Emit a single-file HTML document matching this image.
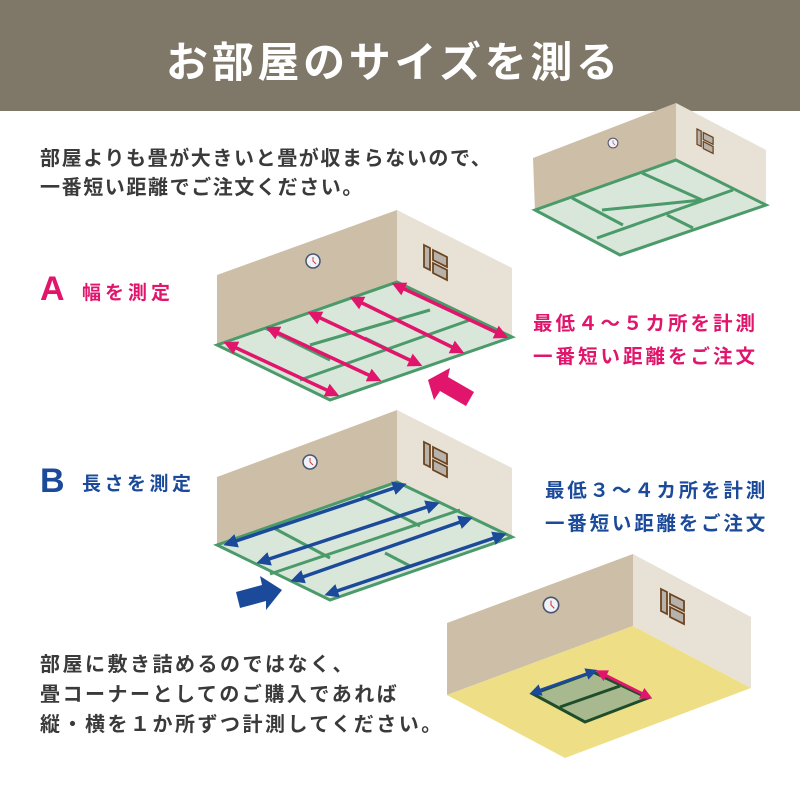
<!DOCTYPE html>
<html><head><meta charset="utf-8"><style>
body{margin:0;width:800px;height:800px;background:#fff;overflow:hidden;position:relative;font-family:"Liberation Sans","Noto Sans CJK JP",sans-serif;font-weight:bold}
.bar{position:absolute;left:0;top:0;width:800px;height:111px;background:#7f7868}
.t{position:absolute;white-space:nowrap}
</style></head><body>
<div class="bar"></div>
<div class="t" style="left:166px;top:29px;font-size:42px;color:#fff;letter-spacing:3.7px">お部屋のサイズを測る</div>
<div class="t" style="left:40px;top:145px;font-size:20px;color:#3a3a3a;line-height:29px;letter-spacing:1.6px">部屋よりも畳が大きいと畳が収まらないので、<br>一番短い距離でご注文ください。</div>
<div class="t" style="left:40px;top:270px;font-size:34px;color:#e0156b">A</div>
<div class="t" style="left:82px;top:278px;font-size:19px;color:#e0156b;letter-spacing:4px">幅を測定</div>
<div class="t" style="left:533px;top:308px;font-size:19.5px;color:#e0156b;line-height:33px;letter-spacing:3px">最低４～５カ所を計測<br>一番短い距離をご注文</div>
<div class="t" style="left:40px;top:462px;font-size:34px;color:#1b4a9a">B</div>
<div class="t" style="left:82px;top:469px;font-size:19px;color:#1b4a9a;letter-spacing:3.5px">長さを測定</div>
<div class="t" style="left:545px;top:475px;font-size:19.5px;color:#1b4a9a;line-height:33px;letter-spacing:2.8px">最低３～４カ所を計測<br>一番短い距離をご注文</div>
<div class="t" style="left:40px;top:650px;font-size:20px;color:#3a3a3a;line-height:30px;letter-spacing:2.5px">部屋に敷き詰めるのではなく、<br>畳コーナーとしてのご購入であれば<br>縦・横を１か所ずつ計測してください。</div>
<svg width="800" height="800" style="position:absolute;left:0;top:0">
<defs>
<marker id="pa" markerWidth="4" markerHeight="4" refX="2" refY="2" orient="auto-start-reverse" markerUnits="strokeWidth"><path d="M0,0L4,2L0,4z" fill="#e0156b"/></marker>
<marker id="ba" markerWidth="4" markerHeight="4" refX="2" refY="2" orient="auto-start-reverse" markerUnits="strokeWidth"><path d="M0,0L4,2L0,4z" fill="#1b4a9a"/></marker>
<g id="win">
<polygon points="0,0 6,3 6,25 0,22" fill="#b8b2aa" stroke="#6b4520" stroke-width="1.8"/>
<polygon points="9,5 23,12 23,22 9,15" fill="#b8b2aa" stroke="#6b4520" stroke-width="1.8"/>
<polygon points="9,18 23,25 23,35 9,28" fill="#b8b2aa" stroke="#6b4520" stroke-width="1.8"/>
</g>
<g id="clk"><circle r="7" fill="#f0f2f8" stroke="#4a5570" stroke-width="1.5"/><path d="M0,-4V0L3,3" stroke="#c44" stroke-width="1" fill="none"/></g>
</defs>
<polygon points="533,158 676,103 676,160 535,212" fill="#cdbfa7"/>
<polygon points="676,103 766,150 766,205 676,160" fill="#e8e1d6"/>
<polygon points="535,210 676,160 766,205 620,255" fill="#d9e6da" stroke="#4a9a6a" stroke-width="3"/>
<g stroke="#4a9a6a" stroke-width="3"><line x1="572" y1="198" x2="623" y2="225"/><line x1="642" y1="173" x2="702" y2="200"/><line x1="602" y1="210" x2="702" y2="200"/><line x1="597" y1="238" x2="733" y2="190"/><line x1="667" y1="215" x2="693" y2="228"/></g>
<use href="#clk" transform="translate(613,143) scale(0.7)"/>
<use href="#win" transform="translate(697,129) scale(0.7)"/>
<polygon points="217,275 397,210 397,282 217,345" fill="#cdbfa7"/>
<polygon points="397,210 512,268 512,337 397,282" fill="#e8e1d6"/>
<polygon points="217,345 397,282 512,337 330,400" fill="#d9e6da" stroke="#4a9a6a" stroke-width="3"/>
<g stroke="#4a9a6a" stroke-width="3"><line x1="265" y1="328" x2="330" y2="360"/><line x1="310" y1="345" x2="430" y2="310"/><line x1="300" y1="380" x2="470" y2="320"/><line x1="420" y1="365" x2="365" y2="338"/></g>
<use href="#clk" transform="translate(313,261)"/>
<use href="#win" transform="translate(424,245)"/>
<g stroke="#e0156b" stroke-width="3.5" marker-start="url(#pa)" marker-end="url(#pa)">
<line x1="230" y1="345" x2="333" y2="393"/><line x1="272" y1="330" x2="375" y2="378"/><line x1="314" y1="315" x2="416" y2="363"/><line x1="356" y1="300" x2="458" y2="350"/><line x1="398" y1="286" x2="502" y2="335"/></g>
<polygon points="428,380 450,368 448,377 474,392 466,406 440,391 434,400" fill="#e0156b"/>
<polygon points="217,477 397,410 397,482 217,545" fill="#cdbfa7"/>
<polygon points="397,410 512,468 512,537 397,482" fill="#e8e1d6"/>
<polygon points="217,545 397,482 512,537 330,600" fill="#d9e6da" stroke="#4a9a6a" stroke-width="3"/>
<g stroke="#4a9a6a" stroke-width="3"><line x1="270" y1="526" x2="330" y2="558"/><line x1="360" y1="495" x2="420" y2="526"/><line x1="270" y1="574" x2="460" y2="510"/><line x1="385" y1="553" x2="410" y2="566"/></g>
<use href="#clk" transform="translate(310,462)"/>
<use href="#win" transform="translate(424,442)"/>
<g stroke="#1b4a9a" stroke-width="3.5" marker-start="url(#ba)" marker-end="url(#ba)">
<line x1="230" y1="543" x2="400" y2="486"/><line x1="263" y1="561" x2="433" y2="505"/><line x1="297" y1="579" x2="466" y2="520"/><line x1="331" y1="593" x2="500" y2="536"/></g>
<polygon points="236,592 262,585 260,576 282,590 266,610 266,601 240,608" fill="#1b4a9a"/>
<polygon points="447,623 633,554 633,626 447,695" fill="#cdbfa7"/>
<polygon points="633,554 751,617 751,688 633,626" fill="#e8e1d6"/>
<polygon points="447,695 633,626 751,688 565,758" fill="#eedf86"/>
<polygon points="533,694 593,672 648,698 585,722" fill="#a8b98f" stroke="#1f4d2a" stroke-width="3"/>
<line x1="560" y1="707" x2="620" y2="686" stroke="#1f4d2a" stroke-width="3"/>
<use href="#clk" transform="translate(551,605) scale(1.1)"/>
<use href="#win" transform="translate(661,589)"/>
<line x1="535" y1="692" x2="592" y2="672" stroke="#1b4a9a" stroke-width="3" marker-start="url(#ba)" marker-end="url(#ba)"/>
<line x1="601" y1="673" x2="647" y2="696" stroke="#e0156b" stroke-width="3" marker-start="url(#pa)" marker-end="url(#pa)"/>
</svg>
</body></html>
